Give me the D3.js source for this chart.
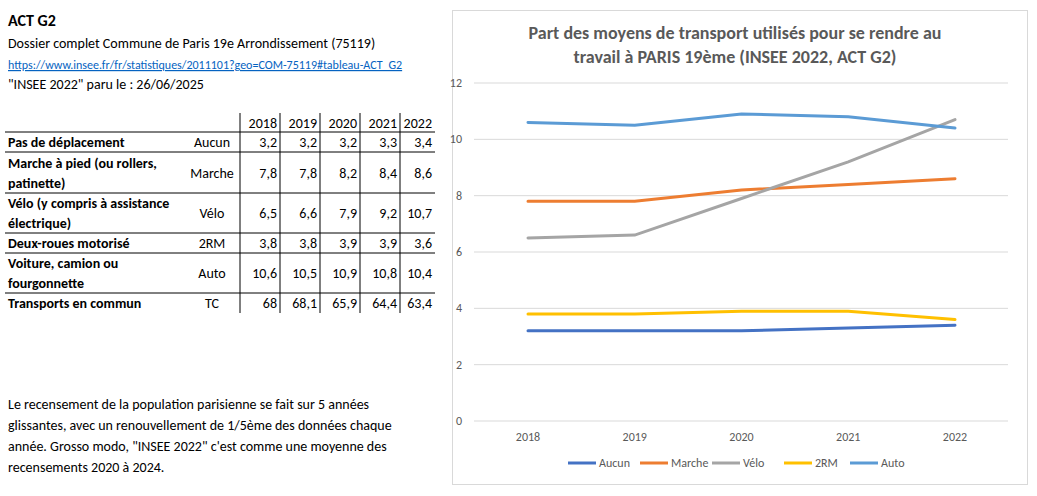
<!DOCTYPE html>
<html><head><meta charset="utf-8">
<script src="https://cdn.jsdelivr.net/npm/d3@7"></script>
<style>
body{margin:0;background:#fff;font-family:Calibri,Carlito,"Liberation Sans",Arial,sans-serif;}
svg text{font-family:Carlito,Calibri,"Liberation Sans",Arial,sans-serif;}
</style></head>
<body>
<svg id="page" width="1037" height="496"></svg>
<script>
// Chart data
var years = ["2018", "2019", "2020", "2021", "2022"];
var labels = ["Pas de déplacement", "Marche à pied (ou rollers, patinette)", "Vélo (y compris à assistance électrique)", "Deux-roues motorisé", "Voiture, camion ou fourgonnette", "Transports en commun"];
var shortNames = ["Aucun", "Marche", "Vélo", "2RM", "Auto", "TC"];
var aucun = [3.2, 3.2, 3.2, 3.3, 3.4];
var marche = [7.8, 7.8, 8.2, 8.4, 8.6];
var velo = [6.5, 6.6, 7.9, 9.2, 10.7];
var deuxRM = [3.8, 3.8, 3.9, 3.9, 3.6];
var auto = [10.6, 10.5, 10.9, 10.8, 10.4];
var tc = [68, 68.1, 65.9, 64.4, 63.4];
var yTicks = [0, 2, 4, 6, 8, 10, 12];

var svg = d3.select("#page");
var fmt = v => String(v).replace(".", ",");

// Header text
svg.append("text").attr("x", 8).attr("y", 26).attr("font-size", 16).attr("font-weight", "bold").text("ACT G2");
svg.append("text").attr("x", 8).attr("y", 48).attr("font-size", 14).text("Dossier complet Commune de Paris 19e Arrondissement (75119)");
svg.append("text").attr("x", 8).attr("y", 69).attr("font-size", 12).attr("fill", "#0563c1").attr("text-decoration", "underline")
  .text("https://www.insee.fr/fr/statistiques/2011101?geo=COM-75119#tableau-ACT_G2");
svg.append("text").attr("x", 8).attr("y", 89).attr("font-size", 14).text("\"INSEE 2022\" paru le : 26/06/2025");

// Table
var rows = [aucun, marche, velo, deuxRM, auto, tc];
var rowTops = [132, 152, 193, 233, 253, 293];
var rowBottoms = [152, 193, 233, 253, 293, 313];
var wrapped = [["Pas de déplacement"], ["Marche à pied (ou rollers,", "patinette)"], ["Vélo (y compris à assistance", "électrique)"], ["Deux-roues motorisé"], ["Voiture, camion ou", "fourgonnette"], ["Transports en commun"]];
var colEdges = [240, 280, 320, 360, 400, 435];
var t = svg.append("g").attr("font-size", 14);
years.forEach((y, i) => t.append("text").attr("x", colEdges[i + 1] - 3).attr("y", 128).attr("text-anchor", "end").text(y));
rows.forEach((r, i) => {
  var mid = (rowTops[i] + rowBottoms[i]) / 2;
  var lines = wrapped[i];
  lines.forEach((l, j) => t.append("text").attr("x", 8).attr("y", mid + 5 + (j - (lines.length - 1) / 2) * 20)
    .attr("font-weight", "bold").text(l));
  t.append("text").attr("x", 212).attr("y", mid + 5).attr("text-anchor", "middle").text(shortNames[i]);
  r.forEach((v, k) => t.append("text").attr("x", colEdges[k + 1] - 3).attr("y", mid + 5).attr("text-anchor", "end").text(fmt(v)));
  t.append("line").attr("x1", 5).attr("x2", 435).attr("y1", rowTops[i]).attr("y2", rowTops[i]).attr("stroke", "#000");
});
colEdges.slice(0, 5).forEach(x => t.append("line").attr("x1", x).attr("x2", x).attr("y1", 113).attr("y2", 313).attr("stroke", "#000"));

// Footnote
["Le recensement de la population parisienne se fait sur 5 années", "glissantes, avec un renouvellement de 1/5ème des données chaque",
 "année. Grosso modo, \"INSEE 2022\" c'est comme une moyenne des", "recensements 2020 à 2024."]
  .forEach((l, i) => svg.append("text").attr("x", 8).attr("y", 409 + i * 21).attr("font-size", 14).text(l));

// Chart
svg.append("rect").attr("x", 452.5).attr("y", 10.5).attr("width", 575).attr("height", 474).attr("fill", "#fff").attr("stroke", "#d9d9d9");
svg.append("text").attr("x", 735).attr("y", 39).attr("text-anchor", "middle").attr("font-size", 18).attr("font-weight", "bold").attr("fill", "#595959")
  .text("Part des moyens de transport utilisés pour se rendre au");
svg.append("text").attr("x", 735).attr("y", 63).attr("text-anchor", "middle").attr("font-size", 18).attr("font-weight", "bold").attr("fill", "#595959")
  .text("travail à PARIS 19ème (INSEE 2022, ACT G2)");

var x = d3.scalePoint().domain(years).range([528, 955]);
var y = d3.scaleLinear().domain([0, 12]).range([421, 83]);

svg.append("g").selectAll("line").data(yTicks).join("line")
  .attr("x1", 474).attr("x2", 1008).attr("y1", d => y(d)).attr("y2", d => y(d)).attr("stroke", "#d9d9d9");
svg.append("g").selectAll("text").data(yTicks).join("text")
  .attr("x", 462).attr("y", d => y(d) + 4).attr("text-anchor", "end").attr("font-size", 12).attr("fill", "#595959").text(d => d);
svg.append("g").selectAll("text").data(years).join("text")
  .attr("x", d => x(d)).attr("y", 441).attr("text-anchor", "middle").attr("font-size", 12).attr("fill", "#595959").text(d => d);

var series = [
  {name: "Aucun", values: aucun, color: "#4472c4"},
  {name: "Marche", values: marche, color: "#ed7d31"},
  {name: "Vélo", values: velo, color: "#a5a5a5"},
  {name: "2RM", values: deuxRM, color: "#ffc000"},
  {name: "Auto", values: auto, color: "#5b9bd5"}
];
var line = d3.line().x((d, i) => x(years[i])).y(d => y(d));
series.forEach(s => svg.append("path").attr("d", line(s.values)).attr("fill", "none")
  .attr("stroke", s.color).attr("stroke-width", 3).attr("stroke-linecap", "round"));

var legX = [568, 640, 712, 784, 850];
series.forEach((s, i) => {
  svg.append("line").attr("x1", legX[i]).attr("x2", legX[i] + 28).attr("y1", 463).attr("y2", 463).attr("stroke", s.color).attr("stroke-width", 3);
  svg.append("text").attr("x", legX[i] + 31).attr("y", 467).attr("font-size", 12).attr("fill", "#595959").text(s.name);
});
</script>
</body></html>
